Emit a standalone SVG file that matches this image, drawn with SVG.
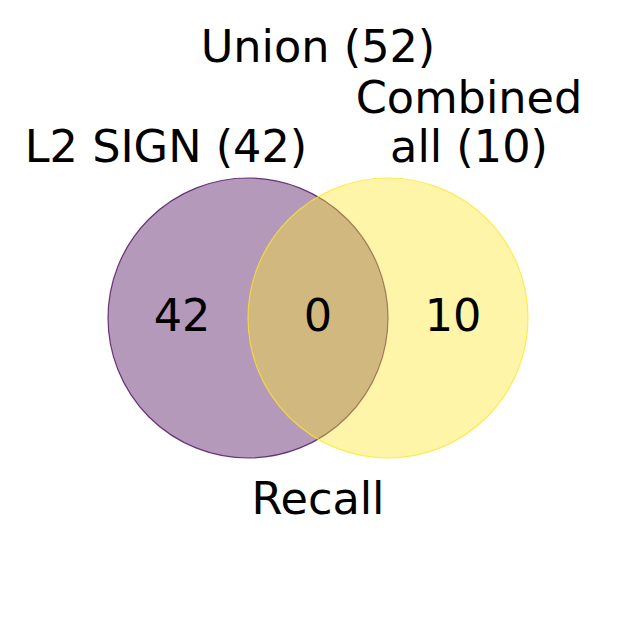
<svg xmlns="http://www.w3.org/2000/svg" width="636" height="636" viewBox="0 0 636 636">
<style>
text{font-family:"DejaVu Sans",sans-serif;font-size:44.6px;fill:#000;text-anchor:middle}
</style>
<rect width="636" height="636" fill="#fff"/>
<g id="set-l2sign">
<circle cx="248" cy="318" r="140" fill="#440154" fill-opacity="0.4" stroke="#440154" stroke-opacity="0.75" stroke-width="1.2"/>
</g>
<g id="set-combined">
<circle cx="388" cy="318" r="140" fill="#fde725" fill-opacity="0.4" stroke="#fde725" stroke-opacity="0.75" stroke-width="1.2"/>
</g>
<g id="connectors"></g>
<g id="labels">
<text x="318" y="62">Union (52)</text>
<text x="469" y="113">Combined</text>
<text x="469" y="162">all (10)</text>
<text x="166" y="162">L2 SIGN (42)</text>
<text x="182" y="331">42</text>
<text x="318" y="331">0</text>
<text x="453" y="331">10</text>
<text x="318" y="514">Recall</text>
</g>
</svg>
